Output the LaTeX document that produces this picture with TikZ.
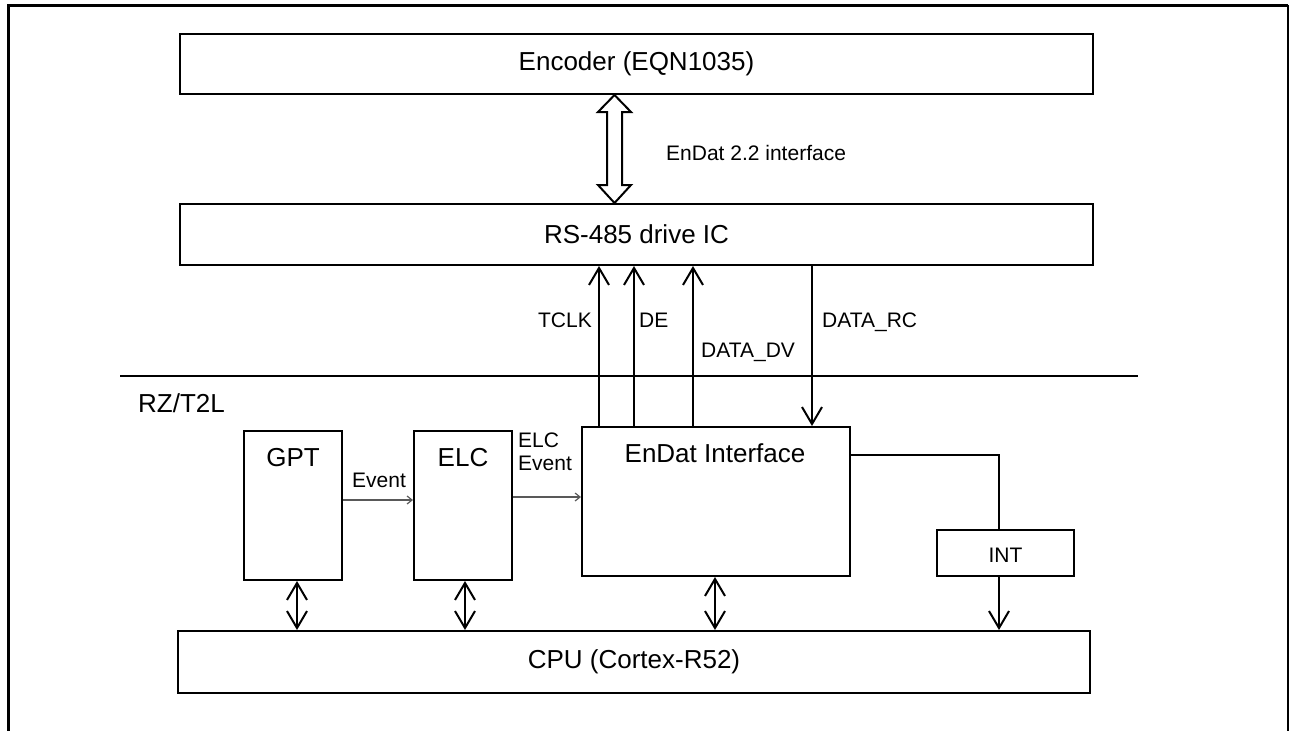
\documentclass[tikz,border=0pt]{standalone}
\usepackage{fontspec}
\setmainfont{Liberation Sans}
\usetikzlibrary{arrows.meta}
\begin{document}
\begin{tikzpicture}[x=1pt,y=-1pt,
  box/.style={draw, line width=2pt, inner sep=0pt, font=\fontsize{26}{31}\selectfont},
  bigtext/.style={inner sep=0pt, font=\fontsize{26}{31}\selectfont},
  smalltext/.style={inner sep=0pt, font=\fontsize{21}{25}\selectfont},
  sig/.style={line width=2pt, -{Straight Barb[length=17pt,width=20pt,line width=2pt]}},
  dbl/.style={line width=2pt, {Straight Barb[length=17pt,width=20pt,line width=2pt]}-{Straight Barb[length=17pt,width=20pt,line width=2pt]}},
  conn/.style={line width=2pt},
  evt/.style={line width=1.2pt, draw=black!65, -{Straight Barb[length=5pt,width=8pt,line width=1.2pt]}}
]
\useasboundingbox (0,0) rectangle (1291,731);
% frame
\draw[line width=3pt] (8,731) -- (8,5) -- (1287.5,5);
\draw[line width=2pt] (1287.5,5) -- (1287.5,731);

% boxes
\node[box, line width=2.5pt, minimum width=913pt, minimum height=60pt] (enc) at (636.5,64) {Encoder (EQN1035)};
\node[box, minimum width=913pt, minimum height=61pt] (rs) at (636.5,234.5) {RS-485 drive IC};
\node[box, minimum width=912pt, minimum height=62pt] (cpu) at (634,662) {CPU (Cortex-R52)};
\node[box, minimum width=98pt, minimum height=149pt] (gpt) at (293,505.5) {};
\node[box, minimum width=98pt, minimum height=149pt] (elc) at (463,505.5) {};
\node[box, minimum width=268pt, minimum height=149pt] (endat) at (716,501.5) {};
\node[box, minimum width=137pt, minimum height=46pt] (int) at (1005.5,553) {};

% box texts
\node[bigtext, anchor=base] (gptt) at (293,466) {GPT};
\node[bigtext, anchor=base] (elct) at (463,466) {ELC};
\node[bigtext, anchor=base] (endatt) at (715,462) {EnDat Interface};
\node[smalltext, anchor=base] (intt) at (1005.5,562) {INT};
\node[bigtext, anchor=base west] (rz) at (138,412) {RZ/T2L};

% separator line
\coordinate (sepl) at (120,376);
\coordinate (sepr) at (1138,376);
\draw[line width=2pt] (sepl) -- (sepr);

% hollow double arrow
\draw[line width=2pt, line join=miter, fill=white]
  (614.5,95) -- (631,112) -- (622,112) -- (622,185) -- (631,185) -- (614.5,203)
  -- (598,185) -- (607,185) -- (607,112) -- (598,112) -- cycle;
\node[smalltext, anchor=base west] (endatif) at (666,160) {EnDat 2.2 interface};

% signals
\draw[sig] (599,0 |- endat.north) -- (599,0 |- rs.south);
\draw[sig] (634,0 |- endat.north) -- (634,0 |- rs.south);
\draw[sig] (693,0 |- endat.north) -- (693,0 |- rs.south);
\draw[sig] (812,0 |- rs.south) -- (812,0 |- endat.north);
\node[smalltext, anchor=base east] (tclk) at (592,327) {TCLK};
\node[smalltext, anchor=base west] (de) at (639,327) {DE};
\node[smalltext, anchor=base west] (dv) at (701,357) {DATA\_DV};
\node[smalltext, anchor=base west] (rc) at (822,327) {DATA\_RC};

% events
\draw[evt] (gpt.east |- 0,500) -- (elc.west |- 0,500);
\draw[evt] (elc.east |- 0,497) -- (endat.west |- 0,497);
\node[smalltext, anchor=base west] (ev1) at (352,487) {Event};
\node[smalltext, anchor=base west] (ev2a) at (518,447) {ELC};
\node[smalltext, anchor=base west] (ev2b) at (518,470) {Event};

% bus arrows
\draw[dbl] (297,0 |- gpt.south) -- (297,0 |- cpu.north);
\draw[dbl] (465,0 |- elc.south) -- (465,0 |- cpu.north);
\draw[dbl] (715,0 |- endat.south) -- (715,0 |- cpu.north);

% interrupt
\draw[conn] (endat.east |- 0,455) -- (999,455) -- (999,0 |- int.north);
\draw[sig] (999,0 |- int.south) -- (999,0 |- cpu.north);
\end{tikzpicture}
\end{document}
